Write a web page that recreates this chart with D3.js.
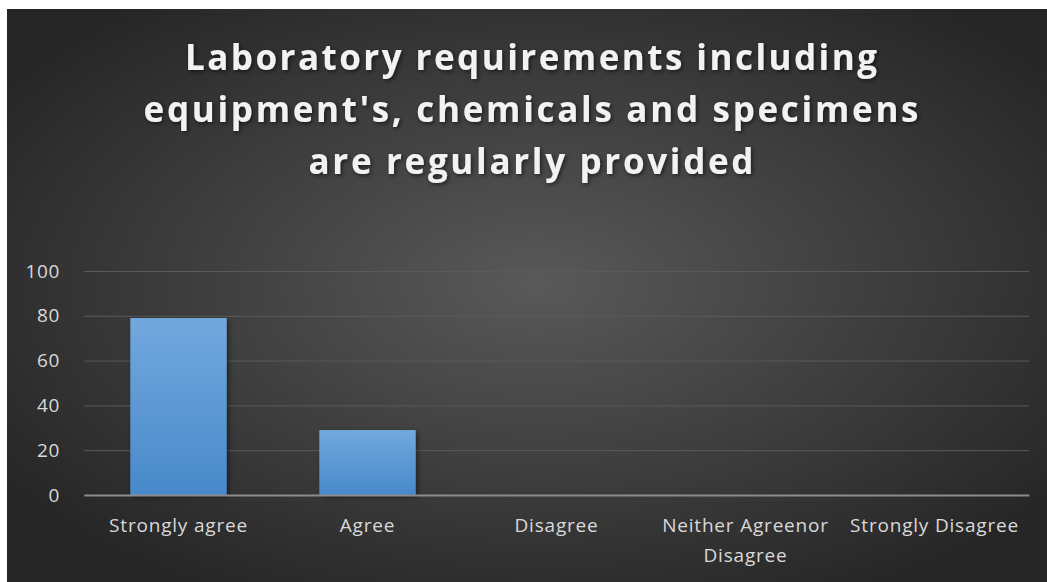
<!DOCTYPE html>
<html>
<head>
<meta charset="utf-8">
<script src="https://cdn.jsdelivr.net/npm/d3@7"></script>
<style>
	html, body { margin: 0; padding: 0; background: #ffffff; }
	svg { display: block; }
	.tick text { font-family: "Open Sans", sans-serif; }
</style>
</head>
<body>
<div id="chart"></div>
<script>
	// chart data
	var categories = ["Strongly agree", "Agree", "Disagree", "Neither Agreenor Disagree", "Strongly Disagree"];
	var values = [79, 29, 0, 0, 0];
	var yTicks = [0, 20, 40, 60, 80, 100];
	var titleLines = ["Laboratory requirements including", "equipment's, chemicals and specimens", "are regularly provided"];

	var cfg = { width: 1047, height: 582, left: 84, right: 18, top: 271, bottom: 87 };

	// main svg
	var svg = d3.select("#chart")
		.append("svg")
		.attr("width", cfg.width)
		.attr("height", cfg.height);

	var defs = svg.append("defs");

	// background radial gradient (lighter centre, dark edges)
	var bg = defs.append("radialGradient")
		.attr("id", "bg")
		.attr("cx", "51%").attr("cy", "48%").attr("r", "62%")
		.attr("gradientUnits", "objectBoundingBox");
	bg.append("stop").attr("offset", "0%").attr("stop-color", "#595959");
	bg.append("stop").attr("offset", "100%").attr("stop-color", "#262626");

	// bar gradient
	var barGrad = defs.append("linearGradient")
		.attr("id", "bar").attr("x1", 0).attr("y1", 0).attr("x2", 0).attr("y2", 1);
	barGrad.append("stop").attr("offset", "0%").attr("stop-color", "#72a8de");
	barGrad.append("stop").attr("offset", "100%").attr("stop-color", "#4889ca");

	// soft shadows
	var shadow = defs.append("filter").attr("id", "shadow")
		.attr("x", "-10%").attr("y", "-10%").attr("width", "130%").attr("height", "130%");
	shadow.append("feDropShadow")
		.attr("dx", 1.5).attr("dy", 1.5).attr("stdDeviation", 2)
		.attr("flood-color", "#000").attr("flood-opacity", 0.6);

	var barShadow = defs.append("filter").attr("id", "barShadow")
		.attr("x", "-10%").attr("y", "-10%").attr("width", "130%").attr("height", "130%");
	barShadow.append("feDropShadow")
		.attr("dx", 2).attr("dy", 2).attr("stdDeviation", 2.5)
		.attr("flood-color", "#000").attr("flood-opacity", 0.45);

	svg.append("rect")
		.attr("x", 7).attr("y", 9)
		.attr("width", cfg.width - 7).attr("height", cfg.height - 9)
		.attr("fill", "url(#bg)");

	// title
	var titleY = [70, 122, 174];
	var titleW = [692, 775, 445];
	svg.append("g")
		.attr("filter", "url(#shadow)")
		.selectAll("text")
		.data(titleLines)
		.enter()
		.append("text")
		.attr("x", 531)
		.attr("y", function (d, i) { return titleY[i]; })
		.attr("text-anchor", "middle")
		.attr("textLength", function (d, i) { return titleW[i]; })
		.attr("lengthAdjust", "spacing")
		.attr("fill", "#f2f2f2")
		.style("font-family", "'Open Sans', sans-serif")
		.style("font-weight", "bold")
		.style("font-size", "35px")
		.text(function (d) { return d; });

	var width = cfg.width - cfg.left - cfg.right,
		height = cfg.height - cfg.top - cfg.bottom;

	var g = svg.append("g")
		.attr("transform", "translate(" + cfg.left + "," + cfg.top + ")");

	// scales
	var x = d3.scaleBand().domain(categories).range([0, width]).paddingInner(0.49).paddingOuter(0.245);
	var y = d3.scaleLinear().domain([0, 100]).range([height, 0]);

	// horizontal grid lines
	g.append("g")
		.attr("class", "grid")
		.call(d3.axisLeft(y).tickValues(yTicks).tickSize(-width).tickFormat(""))
		.call(function (s) { s.select(".domain").remove(); })
		.selectAll("line")
		.attr("stroke", "#5a5a5a")
		.attr("stroke-width", 1);

	// y axis labels
	g.append("g")
		.attr("class", "axis axis--y")
		.attr("transform", "translate(-24,0)")
		.call(d3.axisLeft(y).tickValues(yTicks).tickSize(0).tickPadding(0))
		.call(function (s) { s.select(".domain").remove(); })
		.selectAll("text")
		.attr("fill", "#d9d9d9")
		.style("font-size", "19px")
		.style("letter-spacing", "0.6px");

	// bars
	g.selectAll(".bar")
		.data(values)
		.enter()
		.append("rect")
		.attr("class", "bar")
		.attr("x", function (d, i) { return x(categories[i]); })
		.attr("y", function (d) { return y(d); })
		.attr("width", x.bandwidth())
		.attr("height", function (d) { return height - y(d); })
		.attr("fill", "url(#bar)")
		.attr("filter", "url(#barShadow)");

	// x axis
	var xAxis = g.append("g")
		.attr("class", "axis axis--x")
		.attr("transform", "translate(0," + height + ")")
		.call(d3.axisBottom(x).tickSize(0).tickPadding(24));
	xAxis.select(".domain")
		.attr("stroke", "#8c8c8c")
		.attr("stroke-width", 2);
	xAxis.selectAll("text")
		.attr("fill", "#d9d9d9")
		.style("font-size", "19px")
		.style("letter-spacing", "0.8px")
		.call(wrap, x.step() - 10);

	// wrap long category labels onto several lines
	function wrap(texts, w) {
		texts.each(function () {
			var text = d3.select(this),
				words = text.text().split(/\s+/),
				line = [],
				dy = parseFloat(text.attr("dy")) || 0,
				tspan = text.text(null).append("tspan").attr("x", 0).attr("dy", dy + "em");
			words.forEach(function (word) {
				line.push(word);
				tspan.text(line.join(" "));
				if (tspan.node().getComputedTextLength() > w && line.length > 1) {
					line.pop();
					tspan.text(line.join(" "));
					line = [word];
					tspan = text.append("tspan").attr("x", 0).attr("dy", "1.53em").text(word);
				}
			});
		});
	}
</script>
</body>
</html>
